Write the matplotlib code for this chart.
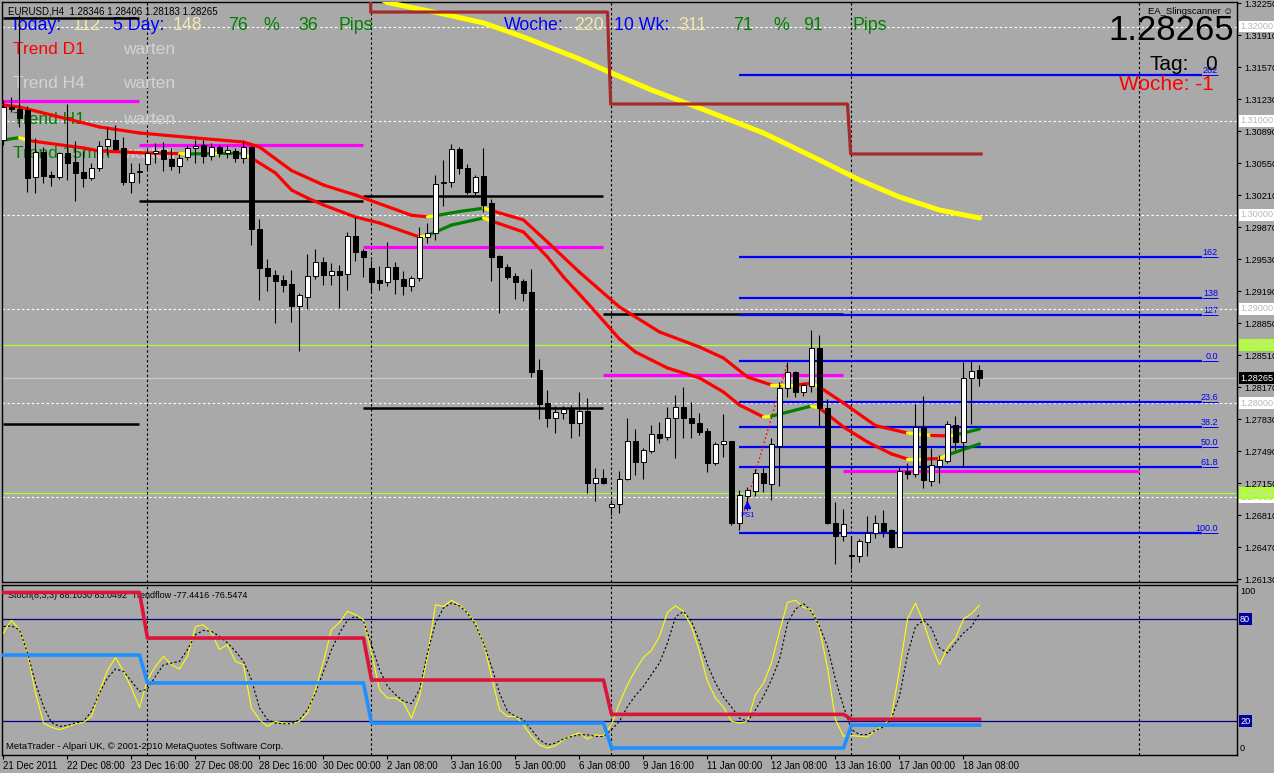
import matplotlib
matplotlib.use("Agg")
import matplotlib.pyplot as plt
import matplotlib.transforms as mtrans
from matplotlib.collections import LineCollection
import numpy as np

W, H = 1274, 773
BG = "#A9A9A9"
SANS = ["Liberation Sans", "DejaVu Sans"]
plt.rcParams["font.family"] = SANS

# ---------------------------------------------------------------- data
symbol = "EURUSD,H4"
x_label_bars = [0, 8, 16, 24, 32, 40, 48, 56, 64, 72, 80, 88, 96, 104, 112, 120]
x_labels = ["21 Dec 2011", "22 Dec 08:00", "23 Dec 16:00", "27 Dec 08:00", "28 Dec 16:00",
            "30 Dec 00:00", "2 Jan 08:00", "3 Jan 16:00", "5 Jan 00:00", "6 Jan 08:00",
            "9 Jan 16:00", "11 Jan 00:00", "12 Jan 08:00", "13 Jan 16:00", "17 Jan 00:00",
            "18 Jan 08:00"]

bar_open = [
    1.30795, 1.31145, 1.31124, 1.31113, 1.30401, 1.30667, 1.30423, 1.30401, 1.30656, 1.30561,
    1.30455, 1.30391, 1.30497, 1.30731, 1.30795, 1.30710, 1.30348, 1.30455, 1.30540, 1.30656,
    1.30688, 1.30593, 1.30518, 1.30614, 1.30710, 1.30741, 1.30625, 1.30720, 1.30656, 1.30678,
    1.30603, 1.30720, 1.29849, 1.29435, 1.29360, 1.29307, 1.29265, 1.29031, 1.29126, 1.29350,
    1.29498, 1.29360, 1.29403, 1.29371, 1.29775, 1.29615, 1.29435, 1.29307, 1.29286, 1.29445,
    1.29318, 1.29243, 1.29328, 1.29764, 1.29806, 1.30338, 1.30348, 1.30699, 1.30497, 1.30242,
    1.30412, 1.30125, 1.29562, 1.29445, 1.29350, 1.29296, 1.29180, 1.28351, 1.28000, 1.27841,
    1.27894, 1.27936, 1.27788, 1.27915, 1.27150, 1.27203, 1.26895, 1.26927, 1.27193, 1.27596,
    1.27373, 1.27490, 1.27671, 1.27639, 1.27841, 1.27958, 1.27841, 1.27788, 1.27703, 1.27363,
    1.27565, 1.27596, 1.26725, 1.27012, 1.27065, 1.27256, 1.27140, 1.27543, 1.28160, 1.28330,
    1.28117, 1.28181, 1.28585, 1.27947, 1.26725, 1.26587, 1.26385, 1.26375, 1.26523, 1.26619,
    1.26725, 1.26651, 1.26470, 1.27278, 1.27246, 1.27745, 1.27171, 1.27331, 1.27384, 1.27766,
    1.27586, 1.28266, 1.28346]
bar_high = [
    1.31220, 1.31251, 1.32123, 1.31156, 1.30816, 1.30720, 1.30465, 1.30667, 1.31177, 1.30784,
    1.30678, 1.30550, 1.30784, 1.30933, 1.30954, 1.30826, 1.30550, 1.30550, 1.30710, 1.30763,
    1.30773, 1.30710, 1.30646, 1.30741, 1.30795, 1.30795, 1.30763, 1.30741, 1.30741, 1.30710,
    1.30773, 1.30731, 1.29955, 1.29530, 1.29413, 1.29360, 1.29413, 1.29169, 1.29583, 1.29636,
    1.29551, 1.29488, 1.29466, 1.29817, 1.29976, 1.29636, 1.29520, 1.29456, 1.29711, 1.29498,
    1.29403, 1.29350, 1.29870, 1.29913, 1.30423, 1.30582, 1.30752, 1.30720, 1.30540, 1.30423,
    1.30710, 1.30168, 1.29573, 1.29477, 1.29381, 1.29318, 1.29424, 1.28468, 1.28138, 1.27968,
    1.27968, 1.27979, 1.28117, 1.28053, 1.27310, 1.27299, 1.26970, 1.27278, 1.27841, 1.27724,
    1.27522, 1.27766, 1.27798, 1.27958, 1.28085, 1.28170, 1.28011, 1.27894, 1.27735, 1.27586,
    1.27883, 1.27600, 1.27076, 1.27108, 1.27299, 1.27310, 1.27628, 1.28223, 1.28436, 1.28340,
    1.28213, 1.28776, 1.28723, 1.28043, 1.26948, 1.26874, 1.26587, 1.26555, 1.26800, 1.26810,
    1.26863, 1.26660, 1.27320, 1.27363, 1.27990, 1.28075, 1.27522, 1.27448, 1.27809, 1.27862,
    1.28436, 1.28446, 1.28406]
bar_low = [
    1.30741, 1.31092, 1.30933, 1.30242, 1.30231, 1.30338, 1.30306, 1.30380, 1.30370, 1.30146,
    1.30295, 1.30370, 1.30465, 1.30635, 1.30688, 1.30316, 1.30231, 1.30338, 1.30476, 1.30550,
    1.30465, 1.30476, 1.30444, 1.30582, 1.30550, 1.30550, 1.30582, 1.30614, 1.30603, 1.30561,
    1.30550, 1.29679, 1.29095, 1.29190, 1.28850, 1.29180, 1.28861, 1.28553, 1.28999, 1.29318,
    1.29254, 1.29254, 1.29010, 1.29201, 1.29509, 1.29339, 1.29169, 1.29201, 1.29243, 1.29158,
    1.29148, 1.29190, 1.29296, 1.29700, 1.29732, 1.30093, 1.30295, 1.30433, 1.30221, 1.30210,
    1.30030, 1.29296, 1.28956, 1.29318, 1.29105, 1.29084, 1.28276, 1.27830, 1.27745, 1.27681,
    1.27830, 1.27628, 1.27650, 1.27044, 1.26959, 1.27140, 1.26810, 1.26831, 1.27182, 1.27235,
    1.27193, 1.27469, 1.27575, 1.27607, 1.27416, 1.27628, 1.27628, 1.27660, 1.27267, 1.27341,
    1.27426, 1.26704, 1.26651, 1.26863, 1.27012, 1.27055, 1.26970, 1.27118, 1.28064, 1.28064,
    1.28075, 1.28117, 1.27756, 1.26715, 1.26290, 1.26534, 1.26236, 1.26311, 1.26375, 1.26566,
    1.26576, 1.26460, 1.26470, 1.27193, 1.27214, 1.27097, 1.27118, 1.27150, 1.27363, 1.27501,
    1.27320, 1.27777, 1.28183]
bar_close = [
    1.31145, 1.31124, 1.31028, 1.30391, 1.30667, 1.30412, 1.30401, 1.30656, 1.30550, 1.30444,
    1.30391, 1.30497, 1.30731, 1.30805, 1.30699, 1.30348, 1.30444, 1.30465, 1.30656, 1.30678,
    1.30593, 1.30518, 1.30603, 1.30710, 1.30731, 1.30625, 1.30720, 1.30656, 1.30688, 1.30603,
    1.30720, 1.29849, 1.29435, 1.29350, 1.29296, 1.29254, 1.29031, 1.29148, 1.29350, 1.29498,
    1.29360, 1.29403, 1.29360, 1.29775, 1.29605, 1.29551, 1.29286, 1.29275, 1.29445, 1.29318,
    1.29243, 1.29328, 1.29764, 1.29806, 1.30327, 1.30348, 1.30699, 1.30497, 1.30242, 1.30401,
    1.30104, 1.29551, 1.29445, 1.29339, 1.29286, 1.29169, 1.28330, 1.27990, 1.27841, 1.27905,
    1.27936, 1.27788, 1.27915, 1.27150, 1.27203, 1.27150, 1.26927, 1.27193, 1.27596, 1.27373,
    1.27501, 1.27671, 1.27628, 1.27841, 1.27958, 1.27841, 1.27788, 1.27692, 1.27363, 1.27565,
    1.27596, 1.26725, 1.27023, 1.27076, 1.27256, 1.27150, 1.27565, 1.28160, 1.28330, 1.28117,
    1.28191, 1.28585, 1.27947, 1.26725, 1.26587, 1.26715, 1.26375, 1.26534, 1.26619, 1.26725,
    1.26640, 1.26470, 1.27278, 1.27246, 1.27745, 1.27182, 1.27341, 1.27395, 1.27777, 1.27586,
    1.28266, 1.28340, 1.28265]

# upper / lower trend-coloured MAs (vertex bar, value, colour code r/y/g)
ma_hi_bars = [0, 2, 6, 12, 17, 24, 30, 32, 36, 40, 44, 51, 53, 54, 57, 60, 61, 65, 68, 72,
              77, 82, 87, 90, 93, 96, 99, 101, 102, 105, 109, 113, 116, 118, 119, 122]
ma_hi_vals = [1.31166, 1.31145, 1.31060, 1.30933, 1.30869, 1.30816, 1.30773, 1.30720, 1.30470,
              1.30316, 1.30210, 1.29995, 1.29978, 1.29990, 1.30035, 1.30070, 1.30045, 1.29945,
              1.29710, 1.29390, 1.29020, 1.28755, 1.28595, 1.28478, 1.28276, 1.28191, 1.28191,
              1.28210, 1.28170, 1.28000, 1.27760, 1.27681, 1.27655, 1.27650, 1.27660, 1.27724]
ma_hi_cols = "rrrrrrrrrrrr" + "ygg" + "y" + "rrrrrrrrr" + "yry" + "rrr" + "yryg" + "g"
ma_lo_bars = [0, 2, 3, 10, 12, 18, 22, 23, 26, 27, 30, 31, 34, 36, 38, 40, 44, 47, 52, 53,
              56, 60, 61, 65, 68, 70, 73, 77, 79, 83, 87, 90, 92, 95, 96, 101, 102, 105, 108,
              111, 113, 115, 117, 118, 122]
ma_lo_vals = [1.30795, 1.30820, 1.30790, 1.30710, 1.30678, 1.30656, 1.30650, 1.30646, 1.30650,
              1.30652, 1.30650, 1.30603, 1.30444, 1.30263, 1.30178, 1.30104, 1.29976, 1.29913,
              1.29764, 1.29780, 1.29891, 1.29966, 1.29934, 1.29817, 1.29551, 1.29339, 1.29063,
              1.28680, 1.28542, 1.28372, 1.28266, 1.28117, 1.27979, 1.27851, 1.27860, 1.27968,
              1.27947, 1.27745, 1.27586, 1.27459, 1.27405, 1.27405, 1.27410, 1.27448, 1.27565]
ma_lo_cols = "gyrrrr" + "ygyg" + "y" + "rrrrrrr" + "ygg" + "y" + "rrrrrrrrrrr" + "ygy" + "rrrr" + "yryg" + "g"

# slow yellow MA
slow_ma_bars = [46, 48, 55, 60, 65, 72, 76, 81, 87, 95, 102, 107, 112, 117, 122]
slow_ma_vals = [1.32350, 1.32255, 1.32133, 1.32038, 1.31889, 1.31655, 1.31506, 1.31326,
                1.31134, 1.30869, 1.30582, 1.30370, 1.30189, 1.30051, 1.29966]

# daily-open style brown step line
d1_break_bars = [45.9, 75.7, 105.7]
d1_levels = [1.32400, 1.32154, 1.31177, 1.30646]

# weekly levels
week_bounds = [0, 17, 45, 75, 105, 142]
magenta_levels = [1.31209, 1.30741, 1.29658, 1.28298, 1.27278]
black_week = [0, 0, 1, 2, 2, 3]
black_levels = [1.32091, 1.27777, 1.30146, 1.30199, 1.27947, 1.28946]
separator_bars = [18, 46, 76, 106, 142]

# fibonacci
fib_labels = ["262", "162", "138", "127", "0.0", "23.6", "38.2", "50.0", "61.8", "100.0"]
fib_prices = [1.31485, 1.29551, 1.29116, 1.28935, 1.28446, 1.28011, 1.27745, 1.27533,
              1.27320, 1.26619]
fib_start_bar, fib_line_end, fib_label_end = 92, 149.8, 151.8

lime_levels = [1.28618, 1.27041]
round_levels = [1.27000, 1.28000, 1.29000, 1.30000, 1.31000, 1.32000]
price_ticks = [1.26130, 1.26470, 1.26810, 1.27150, 1.27490, 1.27830, 1.28170, 1.28510,
               1.28850, 1.29190, 1.29530, 1.29870, 1.30210, 1.30550, 1.30890, 1.31230,
               1.31570, 1.31910, 1.32250]
trend_line_bars = [92, 98]
trend_line_vals = [1.26683, 1.28425]

# oscillator
stoch_k = [
    71.8, 79.2, 73.7, 60.0, 36.5, 18.8, 16.3, 14.9, 16.5, 18.4,
    19.2, 22.7, 37.4, 49.8, 57.4, 49.2, 39.4, 28.0, 44.3, 52.1,
    58.0, 53.1, 50.6, 58.0, 75.6, 76.6, 71.8, 62.0, 64.9, 55.1,
    53.1, 27.6, 20.8, 16.8, 19.8, 18.8, 18.4, 19.8, 24.7, 38.4,
    55.1, 73.7, 78.0, 84.5, 82.5, 79.6, 60.0, 38.4, 33.5, 33.5,
    30.6, 21.7, 34.5, 58.0, 88.4, 87.4, 91.0, 88.4, 83.5, 77.6,
    65.9, 46.3, 26.6, 22.7, 22.7, 17.8, 10.9, 6.0, 4.1, 5.5,
    9.0, 11.4, 13.0, 9.4, 11.8, 11.4, 17.8, 30.6, 41.4, 50.0,
    57.4, 61.6, 69.8, 83.9, 87.8, 84.5, 75.6, 61.0, 43.3, 33.5,
    28.2, 19.8, 18.8, 19.8, 35.5, 42.3, 54.1, 72.7, 89.8, 91.0,
    86.8, 85.5, 74.7, 51.2, 20.8, 11.0, 11.4, 11.0, 10.6, 14.5,
    17.3, 22.7, 50.2, 80.0, 89.4, 78.0, 63.9, 53.1, 63.0, 68.8,
    80.0, 83.1, 88.1]
stoch_d = [
    75.6, 76.0, 73.7, 60.0, 42.3, 28.6, 19.2, 16.8, 17.4, 18.8,
    19.8, 25.7, 36.5, 45.3, 50.6, 49.2, 43.3, 37.4, 38.8, 46.3,
    53.1, 54.1, 55.1, 62.0, 70.8, 73.3, 72.7, 69.8, 65.9, 61.0,
    55.1, 44.3, 27.6, 20.8, 18.8, 18.4, 18.4, 20.8, 26.6, 36.5,
    49.2, 62.0, 71.8, 79.2, 81.6, 78.6, 64.9, 50.2, 40.4, 35.5,
    31.6, 30.2, 38.4, 60.0, 77.6, 86.5, 89.4, 87.8, 83.5, 76.6,
    65.9, 52.1, 36.5, 25.7, 22.7, 20.8, 14.9, 9.0, 6.0, 7.0,
    9.4, 10.9, 11.9, 11.9, 10.9, 10.9, 14.9, 19.8, 28.6, 35.0,
    40.4, 47.3, 54.1, 65.9, 81.2, 84.5, 78.6, 66.9, 53.1, 42.3,
    34.1, 28.2, 21.7, 19.8, 26.6, 34.5, 44.3, 56.1, 77.6, 85.8,
    89.0, 84.5, 75.6, 63.9, 44.3, 28.6, 14.9, 12.0, 12.0, 14.5,
    16.5, 21.7, 34.5, 59.0, 75.6, 79.2, 74.7, 63.0, 60.0, 65.9,
    71.8, 75.6, 83.0]
stoch_label = "Stoch(8,3,3) 88.1030 83.0492  Trendflow -77.4416 -76.5474"
tf_bounds = [0, 18, 46, 76, 106, 123]
tf_red = [95.6, 68.8, 44.1, 23.9, 21.0]
tf_blue = [58.8, 42.4, 18.8, 4.1, 17.6]
osc_levels = [20, 80]

# ---------------------------------------------------------------- figure
fig = plt.figure(figsize=(W / 100, H / 100), dpi=100, facecolor=BG)


def rect(x0, y0, x1, y1):
    return [x0 / W, 1 - y1 / H, (x1 - x0) / W, (y1 - y0) / H]


ax = fig.add_axes(rect(2, 2, 1237, 582), facecolor=BG)
ax2 = fig.add_axes(rect(2, 585, 1237, 755), facecolor=BG)
XL = (-0.1875, 154.19)
for a in (ax, ax2):
    a.set_xlim(*XL)
    for s in a.spines.values():
        s.set_color("black")
        s.set_linewidth(1)
ax.set_ylim(1.2609825, 1.322608)
ax2.set_ylim(0, 100)

DASH = (0, (2.2, 2.2))
o = np.array(bar_open); hi = np.array(bar_high); lo = np.array(bar_low); c = np.array(bar_close)
n = len(o)
xs = np.arange(n)

# grid-ish lines
for lv in round_levels:
    ax.axhline(lv, color="white", lw=0.8, ls=DASH, zorder=1)
for lv in lime_levels:
    ax.axhline(lv, color="#ADFF2F", lw=0.9, zorder=2)
ax.axhline(c[-1], color="#C8C8C8", lw=0.9, zorder=2)
for b in separator_bars:
    ax.axvline(b, color="black", lw=0.8, ls=DASH, zorder=2)
    ax2.axvline(b, color="black", lw=0.8, ls=DASH, zorder=2)


def ftext(x, y, s, **kw):
    kw.setdefault("va", "center")
    kw.setdefault("ha", "left")
    ax.text(x / W, 1 - y / H, s, transform=fig.transFigure, clip_on=False, **kw)


# info texts (drawn under candles)
BLUE, KHAKI, GREEN, RED, LGRAY = "#0000FF", "#EEE8AA", "#008000", "#FF0000", "#D3D3D3"
ftext(8, 11, f"{symbol}  {o[-1]:.5f} {hi[-1]:.5f} {lo[-1]:.5f} {c[-1]:.5f}", fontsize=7,
      color="black", zorder=5)
for s, x, col in [("Today:", 10, BLUE), ("112", 73, KHAKI), ("5 Day:", 113, BLUE), ("148", 173, KHAKI),
                  ("76", 228, GREEN), ("%", 263, GREEN), ("36", 298, GREEN), ("Pips", 338, GREEN),
                  ("Woche:", 504, BLUE), ("220", 574, KHAKI), ("10 Wk:", 614, BLUE), ("311", 678, KHAKI),
                  ("71", 733, GREEN), ("%", 773, GREEN), ("91", 803, GREEN), ("Pips", 853, GREEN)]:
    ftext(x, 26, s, fontsize=12.8, color=col, zorder=4)
for s, y, col in [("Trend D1", 49, RED), ("Trend H4", 84, LGRAY), ("Trend H1", 119, GREEN),
                  ("Trend 15min", 154, GREEN)]:
    ftext(13, y, s, fontsize=12.5, color=col, zorder=4)
    ftext(123, y, "warten", fontsize=12.5, color=LGRAY, zorder=4)

# weekly level lines
for k, lv in enumerate(magenta_levels):
    ax.hlines(lv, week_bounds[k], week_bounds[k + 1], color="#FF00FF", lw=2.3, zorder=8)
for k, lv in zip(black_week, black_levels):
    ax.hlines(lv, week_bounds[k], week_bounds[k + 1], color="black", lw=1.8, zorder=8)

# fib levels
for lab, pr in zip(fib_labels, fib_prices):
    ax.hlines(pr, fib_start_bar, fib_line_end, color="#0000FF", lw=1.6, zorder=9)
    ax.hlines(pr, fib_line_end, fib_label_end, color="#0000FF", lw=0.7, zorder=9)
    ax.text(fib_label_end, pr, lab, color="#0000FF", fontsize=6.5, ha="right", va="bottom", zorder=9)

# slow MA and D1 step
ax.plot(slow_ma_bars, slow_ma_vals, color="#FFFF00", lw=3.6, zorder=7, solid_capstyle="round")
sx = [d1_break_bars[0], d1_break_bars[0]]
sy = [d1_levels[0], d1_levels[1]]
for k, b in enumerate(d1_break_bars[1:], start=1):
    sx += [b - 0.2, b + 0.2]
    sy += [d1_levels[k], d1_levels[k + 1]]
sx.append(n - 0.8)
sy.append(d1_levels[-1])
ax.plot(sx, sy, color="#A52A2A", lw=2.3, zorder=7)

CMAP = {"r": "#FF0000", "y": "#FFFF00", "g": "#008000"}


def colored_line(bars, vals, codes):
    pts = np.column_stack([bars, vals])
    segs = np.stack([pts[:-1], pts[1:]], axis=1)
    cols = [CMAP[ch] for ch in codes[:len(segs)]]
    ax.add_collection(LineCollection(segs, colors=cols, linewidths=2.3, capstyle="round", zorder=10))


colored_line(ma_hi_bars, ma_hi_vals, ma_hi_cols)
colored_line(ma_lo_bars, ma_lo_vals, ma_lo_cols)

ax.plot(trend_line_bars, trend_line_vals, color="#FF0000", lw=1.0, ls=(0, (1.2, 1.8)), zorder=11)
ax.plot([93], [1.26916], marker="^", color="#0000FF", ms=5, zorder=22)
ax.text(93, 1.26810, "PS1", color="#0000FF", fontsize=5.5, ha="center", va="center", zorder=22)

# candles
ax.vlines(xs, lo, hi, color="black", lw=0.8, zorder=20)
up = c >= o
body_h = np.maximum(np.abs(c - o), 0.00003)
ax.bar(xs, body_h, bottom=np.minimum(o, c), width=0.62,
       color=np.where(up, "white", "black"), edgecolor="black", linewidth=0.7, zorder=21)

# right-hand texts
ftext(1233, 11, "EA_Slingscanner \u263a", fontsize=6.8, ha="right", color="black", zorder=25)
ftext(1234, 40, f"{c[-1]:.5f}", fontsize=25, ha="right", va="baseline", color="black", zorder=25)
ftext(1149, 65, "Tag:", fontsize=15, color="black", zorder=25)
ftext(1205, 65, "0", fontsize=15, color="black", zorder=25)
ftext(1214, 84, "Woche: -1", fontsize=15, ha="right", color=RED, zorder=25)

# price axis
ax.set_xticks([])
ax.yaxis.tick_right()
ax.set_yticks(price_ticks)
ax.set_yticklabels([f"{v:.5f}" for v in price_ticks])
ax.tick_params(axis="y", labelsize=6.6, length=3, pad=2, direction="out", colors="black")
bt = mtrans.blended_transform_factory(ax.transAxes, ax.transData)
for lv in round_levels:
    ax.text(1.0025, lv, f"{lv:.5f}", transform=bt, fontsize=6.6, color="#B8B8B8", ha="left", va="center",
            clip_on=False, zorder=30, bbox=dict(boxstyle="square,pad=0.15", fc="white", ec="none"))
for lv in lime_levels:
    ax.text(1.0025, lv, f"{lv:.5f}", transform=bt, fontsize=6.6, color="#D8D8D8", ha="left", va="center",
            clip_on=False, zorder=30, bbox=dict(boxstyle="square,pad=0.15", fc="#ADFF2F", ec="none"))
ax.text(1.0025, c[-1], f"{c[-1]:.5f}", transform=bt, fontsize=6.6, color="white", ha="left", va="center",
        clip_on=False, zorder=31, bbox=dict(boxstyle="square,pad=0.15", fc="black", ec="none"))

# ---------------------------------------------------------------- oscillator
for lv in osc_levels:
    ax2.axhline(lv, color="#000080", lw=0.9, zorder=2)
ax2.plot(xs, stoch_k, color="#FFFF00", lw=0.8, zorder=4)
ax2.plot(xs, stoch_d, color="black", lw=0.8, ls=(0, (2, 2)), zorder=4)
seg_len = np.diff(tf_bounds)
ax2.plot(xs, np.repeat(tf_red, seg_len), color="#DC143C", lw=2.6, zorder=5)
ax2.plot(xs, np.repeat(tf_blue, seg_len), color="#1E90FF", lw=2.6, zorder=5)
ax2.text(6 / 1235, 0.94, stoch_label, transform=ax2.transAxes, fontsize=6.5, color="black",
         va="center", zorder=3)
ax2.text(4 / 1235, 0.05, "MetaTrader - Alpari UK, \u00a9 2001-2010 MetaQuotes Software Corp.",
         transform=ax2.transAxes, fontsize=6.8, color="black", va="center", zorder=6)
ax2.set_yticks([])
bt2 = mtrans.blended_transform_factory(ax2.transAxes, ax2.transData)
for lv in osc_levels:
    ax2.text(1.0025, lv, str(lv), transform=bt2, fontsize=6.6, color="white", ha="left", va="center",
             clip_on=False, bbox=dict(boxstyle="square,pad=0.15", fc="#0000A0", ec="none"))
ax2.text(1.0025, 96, "100", transform=bt2, fontsize=6.6, color="black", ha="left", va="center", clip_on=False)
ax2.text(1.0025, 4, "0", transform=bt2, fontsize=6.6, color="black", ha="left", va="center", clip_on=False)
ax2.set_xticks(x_label_bars)
ax2.set_xticklabels(x_labels, ha="left", fontsize=7)
ax2.tick_params(axis="x", length=3, pad=1, direction="out", colors="black")

fig.savefig("out.png", dpi=100, facecolor=BG)
